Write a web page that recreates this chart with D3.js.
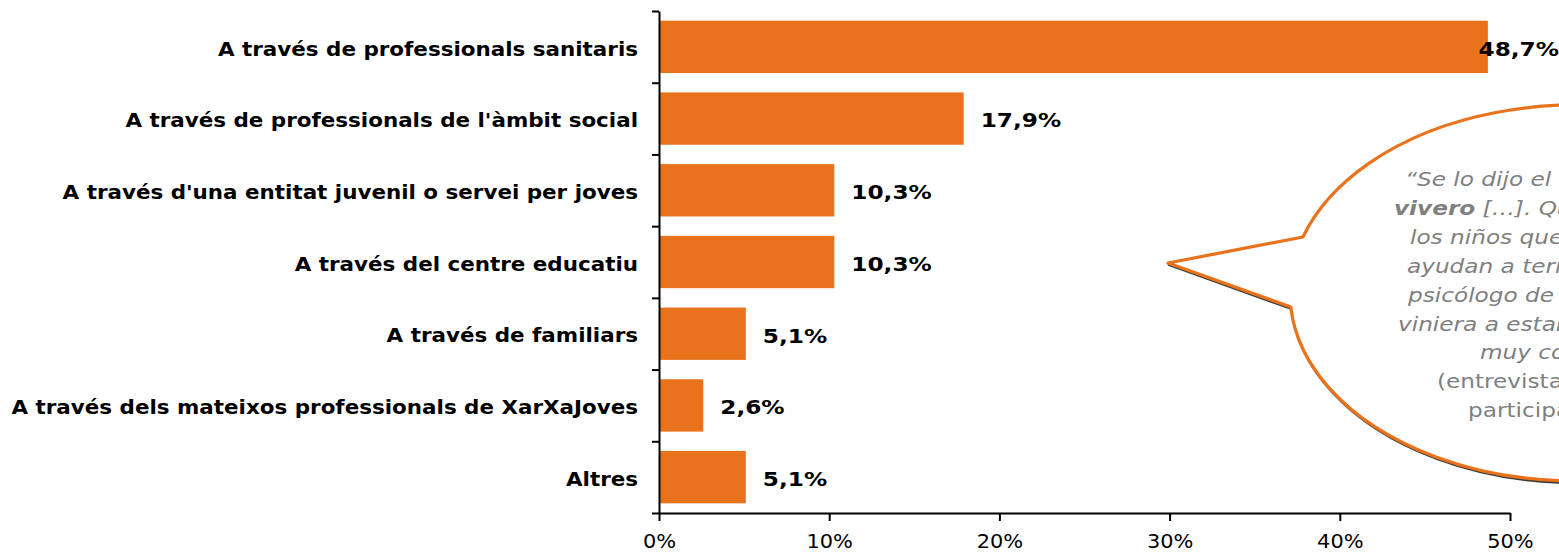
<!DOCTYPE html>
<html>
<head>
<meta charset="utf-8">
<script src="https://cdn.jsdelivr.net/npm/d3@7"></script>
<style>
  html, body { margin: 0; padding: 0; background: #fff; overflow: hidden; }
  svg { display: block; }
</style>
</head>
<body>
<svg id="chart" width="1559" height="553"></svg>
<script>
// Channels through which young people reached the programme (% of responses)
const categories = [
  "A través de professionals sanitaris",
  "A través de professionals de l'àmbit social",
  "A través d'una entitat juvenil o servei per joves",
  "A través del centre educatiu",
  "A través de familiars",
  "A través dels mateixos professionals de XarXaJoves",
  "Altres"
];
const values = [48.7, 17.9, 10.3, 10.3, 5.1, 2.6, 5.1];
const xTicks = [0, 10, 20, 30, 40, 50];

// Quote shown in the speech bubble
const quoteLines = [
  [{ t: "“Se lo dijo el" }],
  [{ t: "vivero", b: true }, { t: " […]. Que" }],
  [{ t: "los niños que" }],
  [{ t: "ayudan a terminar" }],
  [{ t: "psicólogo de" }],
  [{ t: "viniera a estar" }],
  [{ t: "muy contento" }],
  [{ t: "(entrevista", n: true }],
  [{ t: "participante)", n: true }]
];

const W = 1559, H = 553;
const ORANGE = "#E8731C";
const SX_CAT = 1.1;   // horizontal stretch of category labels
const SX_VAL = 1.19;  // horizontal stretch of value labels
const SX_AX = 1.1;    // horizontal stretch of tick labels
const SX_Q = 1.16;    // horizontal stretch of quote text
const svg = d3.select("#chart");

const x = d3.scaleLinear().domain([0, 50]).range([659, 1510]);
const y = d3.scaleBand().domain(categories).range([11, 513])
  .paddingInner(0.27).paddingOuter(0.135);

const fmt = v => v.toFixed(1).replace(".", ",") + "%";

// Bars
svg.append("g").selectAll("rect").data(values).join("rect")
  .attr("x", x(0))
  .attr("y", (d, i) => y(categories[i]))
  .attr("width", d => x(d) - x(0))
  .attr("height", y.bandwidth())
  .attr("fill", ORANGE);

// Category labels
svg.append("g").selectAll("text").data(categories).join("text")
  .text(d => d)
  .attr("text-anchor", "end")
  .attr("dominant-baseline", "central")
  .style("font-family", "'DejaVu Sans', Verdana, sans-serif")
  .style("font-weight", "bold")
  .style("font-size", "19.5px")
  .attr("transform", d => `translate(638,${y(d) + y.bandwidth() / 2 + 2}) scale(${SX_CAT},1)`);

// Value labels
const vl = svg.append("g").selectAll("text").data(values).join("text")
  .text(d => fmt(d))
  .attr("dominant-baseline", "central")
  .style("font-family", "'DejaVu Sans', Verdana, sans-serif")
  .style("font-weight", "bold")
  .style("font-size", "19.5px");
vl.each(function (d, i) {
  const w = this.getComputedTextLength() * SX_VAL;
  const px = Math.min(x(d) + 17, W - w);
  d3.select(this).attr("transform",
    `translate(${px},${y(categories[i]) + y.bandwidth() / 2 + 2}) scale(${SX_VAL},1)`);
});

// Y axis: ticks on category boundaries
const yEdges = d3.scaleLinear().domain([0, categories.length]).range([513, 11]);
const yAxis = svg.append("g").attr("transform", `translate(${x(0)},0)`)
  .call(d3.axisLeft(yEdges).ticks(categories.length).tickFormat("").tickSize(7).tickSizeOuter(0));
yAxis.select(".domain").attr("stroke", "#000").attr("stroke-width", 2);
yAxis.selectAll(".tick line").attr("stroke", "#000").attr("stroke-width", 2);

// X axis
const xAxis = svg.append("g").attr("transform", "translate(0,513)")
  .call(d3.axisBottom(x).tickValues(xTicks).tickFormat(d => d + "%").tickSize(8).tickSizeOuter(0).tickPadding(14));
xAxis.select(".domain").attr("stroke", "#000").attr("stroke-width", 2);
xAxis.selectAll(".tick line").attr("stroke", "#000").attr("stroke-width", 2);
xAxis.selectAll(".tick text")
  .attr("fill", "#000")
  .style("font-family", "'DejaVu Sans', Tahoma, sans-serif")
  .style("font-size", "19px")
  .attr("transform", `scale(${SX_AX},1)`);

// Speech bubble (ellipse with a wedge pointing left)
const bub = { cx: 1576, cy: 293, rx: 286, ry: 188, tipX: 1168, tipY: 263, y1: 237, y2: 307 };
const ex = yy => bub.cx - bub.rx * Math.sqrt(1 - Math.pow((yy - bub.cy) / bub.ry, 2));
const bubblePath = `M${ex(bub.y1)},${bub.y1} A${bub.rx},${bub.ry} 0 1 1 ${ex(bub.y2)},${bub.y2} L${bub.tipX},${bub.tipY} Z`;
svg.append("path").attr("d", bubblePath)
  .attr("transform", "translate(1.2,1.6)")
  .attr("fill", "none").attr("stroke", "#3a3a3a").attr("stroke-width", 3.2)
  .attr("stroke-linejoin", "round");
svg.append("path").attr("d", bubblePath)
  .attr("fill", "#fff").attr("stroke", ORANGE).attr("stroke-width", 3.2)
  .attr("stroke-linejoin", "round");

// Quote text
const qx = [1405, 1394, 1410, 1407, 1408, 1398, 1480, 1437, 1468];
const qg = svg.append("g")
  .style("font-family", "'DejaVu Sans', Verdana, sans-serif")
  .style("font-size", "20px")
  .attr("fill", "#7f7f7f");
quoteLines.forEach((line, i) => {
  const t = qg.append("text")
    .attr("transform", `translate(${qx[i]},${186 + i * 28.9}) scale(${SX_Q},1)`);
  line.forEach(seg => {
    t.append("tspan").text(seg.t)
      .style("font-style", seg.n ? "normal" : "italic")
      .style("font-weight", seg.b ? "bold" : "normal");
  });
});
</script>
</body>
</html>
